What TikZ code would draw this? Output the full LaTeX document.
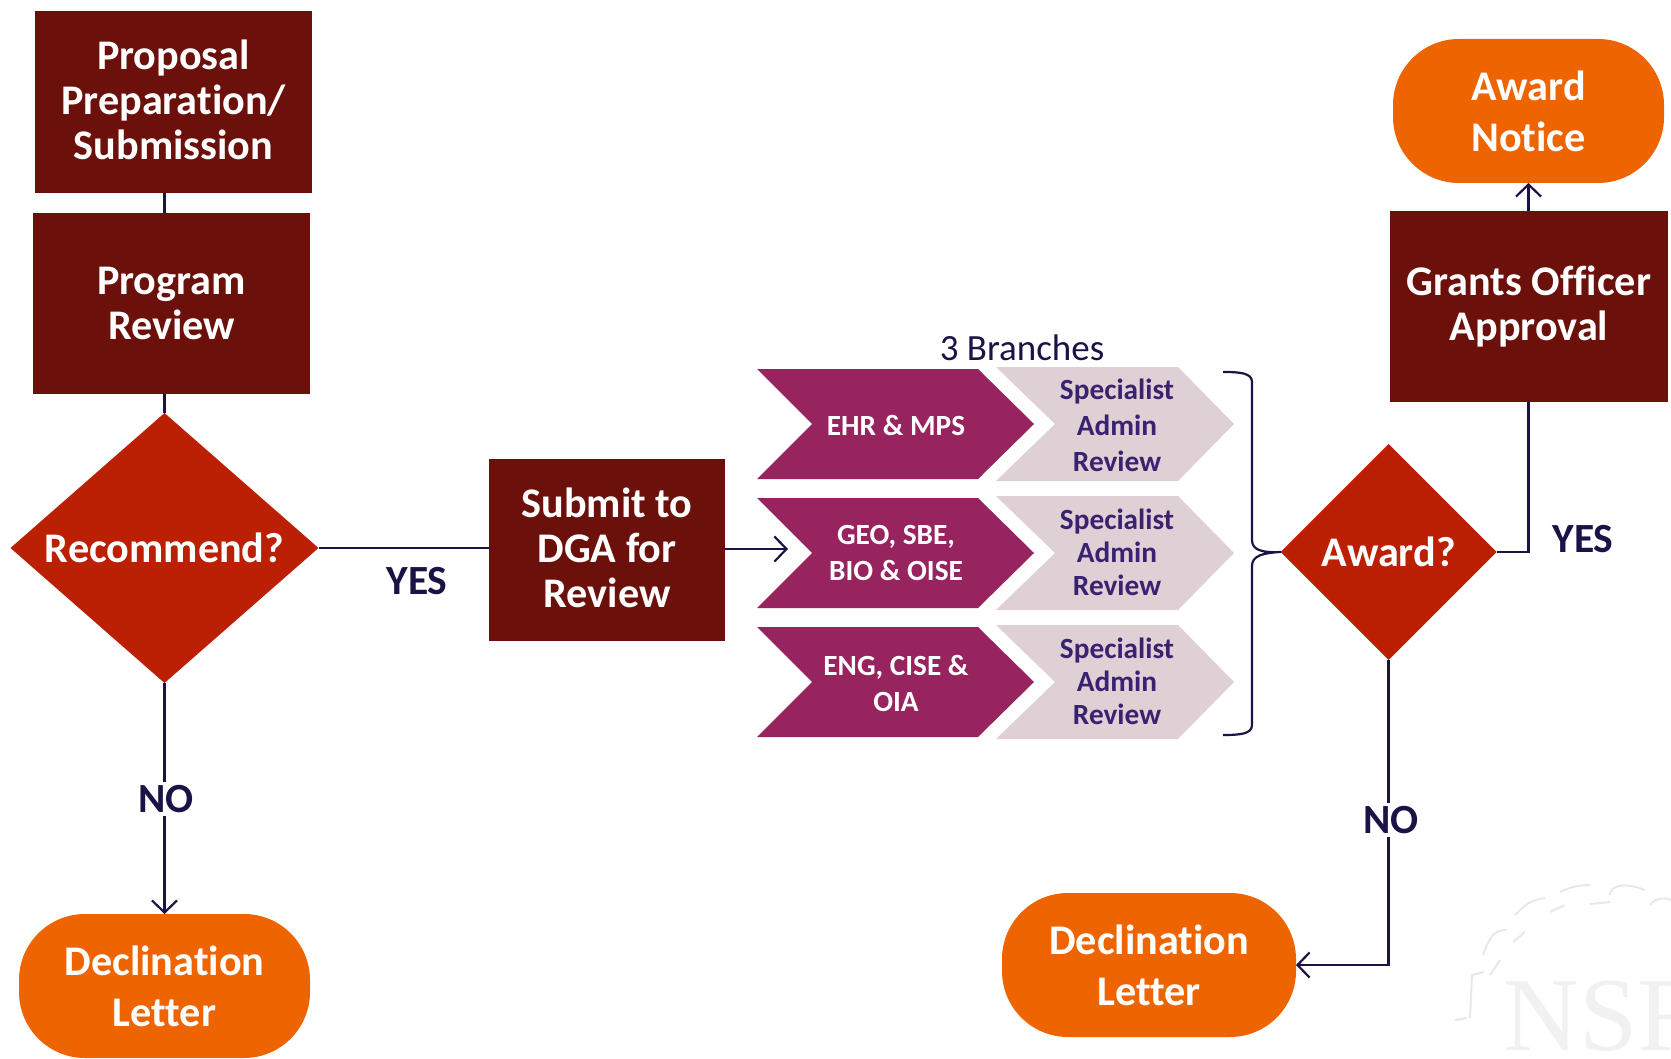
\documentclass[tikz,border=0pt]{standalone}
\usepackage{fontspec}
\setmainfont[Ligatures=NoCommon]{Carlito}
\newfontfamily\wmfont{Liberation Serif}
\usetikzlibrary{arrows.meta,shapes.geometric}
\definecolor{maroon}{HTML}{6B100A}
\definecolor{redd}{HTML}{BC2004}
\definecolor{orng}{HTML}{EE6400}
\definecolor{plum}{HTML}{97235F}
\definecolor{pale}{HTML}{DFD0D5}
\definecolor{navy}{HTML}{1D1246}
\definecolor{violet}{HTML}{3A2270}
\definecolor{wm}{HTML}{F1F1F1}
\definecolor{wmline}{HTML}{E8E8E8}
\tikzset{
  x=1pt,y=-1pt,
  boxx/.style={rectangle,fill=maroon,text=white,align=center,inner sep=0pt,outer sep=0pt,font=\bfseries\fontsize{42.2}{45}\selectfont},
  dec/.style={diamond,fill=redd,text=white,inner sep=0pt,outer sep=0pt,font=\bfseries\fontsize{42.2}{45}\selectfont},
  term/.style={rectangle,rounded corners=66pt,fill=orng,text=white,align=center,inner sep=0pt,outer sep=0pt,font=\bfseries\fontsize{42.2}{51}\selectfont},
  lab/.style={text=navy,inner sep=3pt,font=\bfseries\fontsize{41.5}{43}\selectfont},
  chevtext/.style={text=white,align=center,inner sep=0pt,font=\bfseries\fontsize{29.3}{36}\selectfont},
  spectext/.style={text=violet,align=center,inner sep=0pt,font=\bfseries\fontsize{29.3}{33}\selectfont},
  conn/.style={draw=navy,line width=2.2pt},
  arr/.style={conn,-{Straight Barb[length=12pt,width=25pt,line width=2.2pt]}},
}
\begin{document}
\begin{tikzpicture}
\useasboundingbox (0,0) rectangle (1671,1059);
% watermark
\begin{scope}
\clip (0,0) rectangle (1671,1059);
\node[text=wm,anchor=base west,inner sep=0pt,font=\wmfont\fontsize{105}{105}\selectfont] (seal) at (1503,1050) {NSF};
\draw[wmline,line width=2pt] (1455,1020) -- (1467,1018) (1470,1018) -- (1472,975) -- (1484,972) (1483,955) .. controls (1490,935) and (1495,930) .. (1507,930) (1515,915) .. controls (1525,905) and (1530,900) .. (1545,898) (1560,892) .. controls (1570,887) and (1580,885) .. (1590,885) (1610,895) .. controls (1610,885) and (1625,882) .. (1645,890) (1650,905) .. controls (1655,898) and (1665,897) .. (1671,900);
\draw[wmline,line width=2pt] (1490,975) -- (1500,960) (1513,942) -- (1525,932) (1550,912) -- (1565,905) (1590,904) -- (1610,902);
\end{scope}
% boxes
\node[boxx,minimum width=277pt,minimum height=182pt] (prop) at (173.5,102) {Proposal\\Preparation/\\Submission\\[-41pt]\mbox{}};
\node[boxx,minimum width=277pt,minimum height=181pt] (prog) at (171.5,303.5) {Program\\Review};
\node[dec,shape aspect=1.137,minimum width=308pt,minimum height=270pt] (rec) at (164.5,548) {Recommend?};
\node[boxx,minimum width=236pt,minimum height=182pt] (sub) at (607,550) {Submit to\\DGA for\\Review\\[-41pt]\mbox{}};
\node[dec,shape aspect=1,minimum width=216pt,minimum height=216pt] (awd) at (1388.5,552) {Award?};
\node[boxx,minimum width=278pt,minimum height=191pt] (gr) at (1529,306.5) {Grants Officer\\Approval};
\node[term,minimum width=271pt,minimum height=144pt] (not) at (1528.5,111) {Award\\Notice};
\node[term,minimum width=291pt,minimum height=144pt] (dl1) at (164.5,986) {Declination\\Letter};
\node[term,minimum width=294pt,minimum height=144pt] (dl2) at (1149,965) {Declination\\Letter};
% chevrons
\foreach \m in {424,553,682}{
  \fill[plum] (757,\m-55) -- (978,\m-55) -- (1034,\m) -- (978,\m+55) -- (757,\m+55) -- (812,\m) -- cycle;
  \fill[pale] (996,\m-57) -- (1178,\m-57) -- (1234,\m) -- (1178,\m+57) -- (996,\m+57) -- (1055,\m) -- cycle;
}
\node[chevtext] (c1) at (896,425) {EHR \& MPS};
\node[chevtext] (c2) at (896,553) {GEO, SBE,\\BIO \& OISE};
\node[chevtext] (c3) at (896,683) {ENG, CISE \&\\OIA};
\node[spectext,font=\bfseries\fontsize{29.3}{36}\selectfont] (s1) at (1117,425) {Specialist\\Admin\\Review};
\node[spectext] (s2) at (1117,552) {Specialist\\Admin\\Review};
\node[spectext] (s3) at (1117,681) {Specialist\\Admin\\Review};
\node[text=navy,inner sep=0pt,font=\fontsize{37}{40}\selectfont] (br) at (1022,348) {3 Branches};
% connectors
\coordinate (bt) at (1223,372);
\coordinate (bb) at (1223,735);
\coordinate (aend) at (788,549);
\draw[conn] (rec.north |- prop.south) -- (rec.north |- prog.north);
\draw[conn] (rec.north |- prog.south) -- (rec.north);
\draw[conn] (rec.east) -- (sub.west |- rec.east);
\draw[arr] (sub.east |- aend) -- (aend);
\draw[arr] (rec.south) -- (dl1.north);
\draw[conn] (awd.east) -| (not.south |- gr.south);
\draw[arr] (not.south |- gr.north) -- (not.south);
\draw[arr] (awd.south) |- (dl2.east);
\draw[conn,line join=round] (bt) .. controls (1240,372) and (1252,373) .. (1252,382) -- (1252,540) .. controls (1252,550) and (1262,553) .. (awd.west) .. controls (1262,553) and (1252,556) .. (1252,566) -- (1252,725) .. controls (1252,734) and (1240,735) .. (bb);
% labels
\node[lab] (yes1) at (417,581) {YES};
\node[lab,fill=white] (no1) at (166,799) {NO};
\node[lab] (yes2) at (1583,539) {YES};
\node[lab,fill=white] (no2) at (1391,820) {NO};
\end{tikzpicture}
\end{document}
